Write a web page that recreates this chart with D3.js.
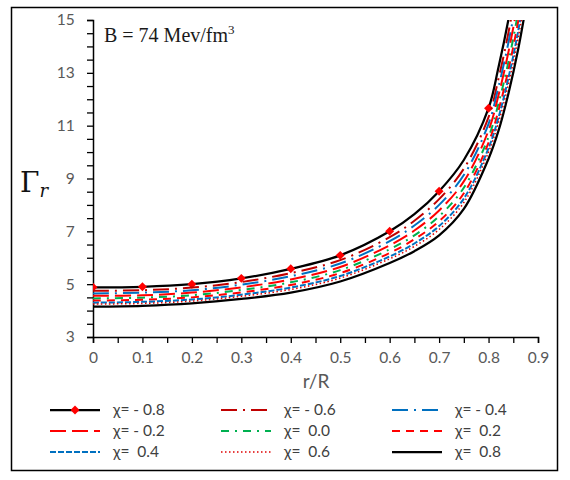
<html>
<head>
  <script src="https://d3js.org/d3.v7.min.js"></script>
  <style>
    body { margin: 0; background: #fff; }
    text { font-family: Lato, "Open Sans", sans-serif; }
  </style>
</head>
<body>
  <svg id="chart" width="570" height="480"></svg>
  <script>
    // r/R sample points (extra ones near the top so the tail runs off the plot)
    const rValues = [0, 0.1, 0.2, 0.3, 0.4, 0.5, 0.6, 0.65, 0.7, 0.75, 0.8, 0.82, 0.84, 0.86, 0.88];
    const markerR = [0, 0.1, 0.2, 0.3, 0.4, 0.5, 0.6, 0.7, 0.8];

    const gammaM08 = [4.88, 4.90, 5.00, 5.22, 5.58, 6.09, 7.00, 7.65, 8.52, 9.70, 11.66, 13.20, 15.00, 17.20, 20.00];
    const gammaM06 = [4.75, 4.77, 4.87, 5.08, 5.42, 5.91, 6.78, 7.40, 8.22, 9.37, 11.32, 12.77, 14.50, 16.61, 19.28];
    const gammaM04 = [4.65, 4.68, 4.77, 4.98, 5.30, 5.78, 6.63, 7.22, 8.00, 9.13, 11.07, 12.46, 14.13, 16.18, 18.76];
    const gammaM02 = [4.56, 4.58, 4.68, 4.88, 5.18, 5.65, 6.47, 7.03, 7.79, 8.89, 10.82, 12.14, 13.77, 15.75, 18.24];
    const gammaP00 = [4.46, 4.49, 4.58, 4.78, 5.07, 5.53, 6.32, 6.85, 7.57, 8.65, 10.57, 11.83, 13.40, 15.32, 17.72];
    const gammaP02 = [4.38, 4.41, 4.50, 4.69, 4.97, 5.42, 6.18, 6.70, 7.38, 8.44, 10.36, 11.57, 13.10, 14.96, 17.28];
    const gammaP04 = [4.30, 4.33, 4.42, 4.60, 4.87, 5.31, 6.05, 6.54, 7.20, 8.24, 10.15, 11.30, 12.79, 14.59, 16.84];
    const gammaP06 = [4.25, 4.27, 4.36, 4.54, 4.80, 5.23, 5.96, 6.43, 7.07, 8.09, 10.00, 11.11, 12.56, 14.33, 16.52];
    const gammaP08 = [4.15, 4.18, 4.27, 4.44, 4.68, 5.10, 5.80, 6.25, 6.85, 7.85, 9.75, 10.80, 12.20, 13.90, 16.00];

    const chiLabels = ["χ= - 0.8", "χ= - 0.6", "χ= - 0.4", "χ= - 0.2", "χ=  0.0", "χ=  0.2", "χ=  0.4", "χ=  0.6", "χ=  0.8"];
    const xTicks = [0, 0.1, 0.2, 0.3, 0.4, 0.5, 0.6, 0.7, 0.8, 0.9];
    const yTicks = [3, 5, 7, 9, 11, 13, 15];

    // line styles (excel-ish dash types)
    const styles = [
      { color: "#000000", width: 2.25, dash: null },
      { color: "#C00000", width: 2, dash: "16,6,2,6" },
      { color: "#0070C0", width: 2, dash: "16,6,2,6" },
      { color: "#FF0000", width: 2, dash: "16,6" },
      { color: "#00B050", width: 2, dash: "8,6,2,6" },
      { color: "#FF0000", width: 2, dash: "8,6" },
      { color: "#0070C0", width: 2, dash: "6,2" },
      { color: "#E00000", width: 1.5, dash: "1.5,2.5" },
      { color: "#000000", width: 2.25, dash: null }
    ];
    const allGamma = [gammaM08, gammaM06, gammaM04, gammaM02, gammaP00, gammaP02, gammaP04, gammaP06, gammaP08];

    let svg = d3.select("#chart");

    // outer frame
    svg.append("rect")
      .attr("x", 11.5).attr("y", 7.5)
      .attr("width", 546).attr("height", 463)
      .attr("fill", "white")
      .attr("stroke", "#000").attr("stroke-width", 1.5);

    let x = d3.scaleLinear().domain([0, 0.9]).range([93, 538]);
    let y = d3.scaleLinear().domain([3, 15]).range([337, 20]);

    svg.append("clipPath").attr("id", "plotclip")
      .append("rect")
      .attr("x", 93).attr("y", 20)
      .attr("width", 445).attr("height", 317);

    // axes
    let xAxis = d3.axisBottom(x)
      .tickValues(d3.range(0, 0.9001, 0.05))
      .tickSize(6)
      .tickFormat(d => {
        let hit = xTicks.find(t => Math.abs(t - d) < 1e-6);
        return hit === undefined ? "" : d3.format("")(hit);
      });
    let gx = svg.append("g").attr("transform", "translate(0,337)").call(xAxis);

    let yAxis = d3.axisLeft(y)
      .tickValues(d3.range(3, 15.001, 0.5))
      .tickSize(6)
      .tickFormat(d => yTicks.includes(d) ? d : "");
    let gy = svg.append("g").attr("transform", "translate(93,0)").call(yAxis);

    [gx, gy].forEach(g => {
      g.select(".domain").attr("stroke", "#000").attr("stroke-width", 1.5);
      g.selectAll(".tick line").attr("stroke", "#000").attr("stroke-width", 1.3);
      g.selectAll(".tick text")
        .attr("fill", "#595959")
        .style("font-size", "15.5px")
        .style("font-family", "Lato, sans-serif");
    });
    gx.selectAll(".tick text").attr("dy", "1.1em");
    gy.selectAll(".tick text").attr("dx", "-0.6em");

    // series
    let line = d3.line()
      .x((d, i) => x(rValues[i]))
      .y(d => y(d))
      .curve(d3.curveCatmullRom.alpha(0.5));

    let plot = svg.append("g").attr("clip-path", "url(#plotclip)");

    allGamma.forEach((vals, k) => {
      let s = styles[k];
      plot.append("path")
        .datum(vals)
        .attr("d", line)
        .attr("fill", "none")
        .attr("stroke", s.color)
        .attr("stroke-width", s.width)
        .attr("stroke-dasharray", s.dash);

      if (k === 0) {
        plot.selectAll(".mk")
          .data(markerR)
          .enter().append("path")
          .attr("class", "mk")
          .attr("d", d3.symbol(d3.symbolSquare, 40))
          .attr("transform", d => {
            let i = rValues.findIndex(r => Math.abs(r - d) < 1e-6);
            return "translate(" + x(d) + "," + y(vals[i]) + ") rotate(45)";
          })
          .attr("fill", "#FF0000");
      }
    });

    // axis titles
    svg.append("text")
      .attr("x", 316).attr("y", 388)
      .attr("text-anchor", "middle")
      .attr("fill", "#595959")
      .style("font-size", "19px")
      .text("r/R");

    let yt = svg.append("text")
      .attr("x", 20).attr("y", 192)
      .style("font-family", "'DejaVu Serif', serif")
      .attr("fill", "#111");
    yt.append("tspan").style("font-size", "28px").text("Γ");
    yt.append("tspan").style("font-size", "18px").style("font-style", "italic").attr("dy", 5).text("r");

    let bt = svg.append("text")
      .attr("x", 104).attr("y", 42)
      .style("font-family", "'Liberation Serif', serif")
      .style("font-size", "20px")
      .attr("fill", "#1a1a1a");
    bt.append("tspan").text("B = 74  Mev/fm");
    bt.append("tspan").attr("dy", -8).style("font-size", "13px").text("3");

    // legend, 3 per row
    let colX = [50, 221, 392];
    let rowY = [410, 431, 452];
    let legend = svg.append("g");
    chiLabels.forEach((lab, k) => {
      let cx = colX[k % 3], cy = rowY[Math.floor(k / 3)];
      let s = styles[k];
      legend.append("line")
        .attr("x1", cx).attr("x2", cx + 50)
        .attr("y1", cy).attr("y2", cy)
        .attr("stroke", s.color)
        .attr("stroke-width", s.width)
        .attr("stroke-dasharray", s.dash);
      if (k === 0) {
        legend.append("path")
          .attr("d", d3.symbol(d3.symbolSquare, 40))
          .attr("transform", "translate(" + (cx + 25) + "," + cy + ") rotate(45)")
          .attr("fill", "#FF0000");
      }
      legend.append("text")
        .attr("x", cx + 63).attr("y", cy + 5)
        .attr("fill", "#404040")
        .style("font-size", "15.5px")
        .style("white-space", "pre")
        .text(lab);
    });
  </script>
</body>
</html>
